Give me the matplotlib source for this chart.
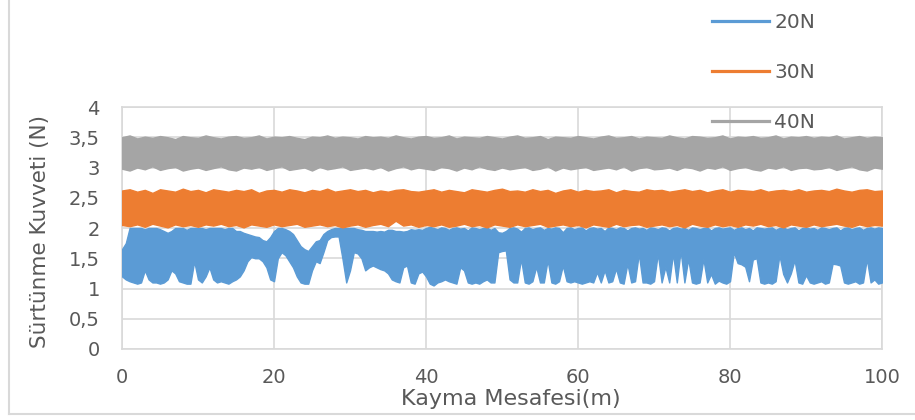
import numpy as np
import matplotlib
matplotlib.use("Agg")
import matplotlib.pyplot as plt
from matplotlib.lines import Line2D

# Friction force bands (upper / lower envelope of the recorded signal), in N
# 20N load, sampled every 0.5 m of sliding distance
lo_20n = [
    1.20, 1.15, 1.12, 1.10, 1.08, 1.10, 1.30, 1.15, 1.10, 1.10,
    1.08, 1.10, 1.15, 1.30, 1.25, 1.12, 1.10, 1.08, 1.08, 1.45,
    1.15, 1.10, 1.20, 1.35, 1.15, 1.10, 1.12, 1.10, 1.08, 1.12,
    1.15, 1.20, 1.30, 1.45, 1.52, 1.50, 1.50, 1.45, 1.35, 1.15,
    1.12, 1.50, 1.60, 1.55, 1.45, 1.35, 1.20, 1.10, 1.08, 1.08,
    1.30, 1.45, 1.42, 1.60, 1.80, 1.85, 1.86, 1.86, 1.50, 1.10,
    1.30, 1.60, 1.58, 1.50, 1.30, 1.35, 1.38, 1.35, 1.32, 1.30,
    1.25, 1.15, 1.12, 1.10, 1.35, 1.38, 1.10, 1.08, 1.25, 1.28,
    1.20, 1.08, 1.05, 1.10, 1.12, 1.15, 1.12, 1.10, 1.08, 1.35,
    1.30, 1.10, 1.08, 1.10, 1.08, 1.12, 1.15, 1.10, 1.10, 1.60,
    1.62, 1.63, 1.15, 1.10, 1.10, 1.49, 1.10, 1.08, 1.12, 1.36,
    1.10, 1.10, 1.47, 1.10, 1.08, 1.12, 1.38, 1.12, 1.10, 1.12,
    1.10, 1.08, 1.10, 1.12, 1.10, 1.27, 1.10, 1.30, 1.10, 1.12,
    1.33, 1.10, 1.08, 1.41, 1.10, 1.12, 1.58, 1.10, 1.10, 1.08,
    1.12, 1.58, 1.10, 1.36, 1.10, 1.58, 1.10, 1.63, 1.10, 1.49,
    1.10, 1.08, 1.10, 1.49, 1.10, 1.24, 1.08, 1.13, 1.10, 1.08,
    1.12, 1.60, 1.42, 1.40, 1.36, 1.12, 1.48, 1.50, 1.10, 1.08,
    1.10, 1.08, 1.12, 1.55, 1.24, 1.10, 1.25, 1.47, 1.10, 1.08,
    1.22, 1.10, 1.08, 1.10, 1.12, 1.08, 1.10, 1.41, 1.40, 1.38,
    1.10, 1.08, 1.10, 1.12, 1.08, 1.10, 1.49, 1.10, 1.15, 1.08,
    1.10,
]
hi_20n = [
    1.65, 1.75, 2.00, 2.00, 2.00, 2.00, 1.98, 2.00, 2.00, 2.00,
    1.98, 1.95, 1.92, 1.95, 2.00, 2.00, 2.00, 1.97, 2.00, 2.00,
    2.00, 2.00, 1.98, 2.00, 2.00, 2.00, 2.00, 1.98, 2.00, 2.00,
    1.95, 1.95, 1.92, 1.90, 1.88, 1.86, 1.85, 1.80, 1.78, 1.85,
    1.95, 2.00, 2.00, 1.98, 1.95, 1.90, 1.80, 1.70, 1.65, 1.62,
    1.70, 1.78, 1.80, 1.90, 1.95, 1.98, 2.00, 2.00, 2.00, 2.00,
    2.00, 2.00, 1.98, 1.97, 1.95, 1.95, 1.95, 1.94, 1.95, 1.94,
    1.97, 1.97, 1.95, 1.95, 1.94, 1.95, 1.98, 1.97, 1.98, 1.97,
    2.00, 2.02, 2.00, 1.98, 2.01, 2.00, 1.97, 2.00, 2.01, 1.99,
    2.00, 1.96, 2.01, 2.00, 1.98, 2.00, 2.01, 1.97, 2.00, 1.93,
    1.92, 1.95, 2.00, 2.01, 1.99, 1.94, 2.00, 2.01, 1.98, 2.00,
    2.01, 1.97, 2.00, 1.99, 2.01, 2.00, 1.93, 2.00, 2.01, 1.98,
    2.00, 2.01, 1.96, 2.00, 2.01, 1.99, 2.00, 1.95, 2.01, 2.00,
    1.98, 2.01, 2.00, 1.96, 2.00, 2.01, 1.99, 2.00, 1.97, 2.01,
    2.00, 1.98, 2.01, 2.00, 1.96, 2.00, 2.01, 1.99, 2.00, 1.97,
    2.01, 2.00, 1.98, 2.00, 2.01, 1.96, 2.00, 2.01, 1.99, 2.00,
    2.01, 1.97, 2.00, 2.01, 1.98, 2.00, 1.96, 2.01, 2.00, 1.99,
    2.00, 2.01, 1.97, 2.00, 2.01, 1.98, 2.00, 2.01, 1.96, 2.00,
    2.01, 1.99, 2.00, 1.97, 2.01, 2.00, 1.98, 2.00, 2.01, 1.96,
    2.00, 2.01, 1.98, 2.00, 2.01, 1.97, 2.00, 2.01, 1.99, 2.01,
    2.00,
]

# 30N and 40N loads, sampled every 1 m
lo_30n = [
    2.05, 2.03, 2.06, 2.02, 2.07, 2.04, 2.01, 2.06, 2.03, 2.05,
    2.02, 2.06, 2.04, 2.07, 2.03, 2.05, 2.01, 2.06, 2.04, 2.02,
    2.06, 2.03, 2.05, 2.07, 2.02, 2.04, 2.06, 2.03, 2.05, 2.01,
    2.04, 2.06, 2.02, 2.05, 2.07, 2.03, 2.12, 2.04, 2.06, 2.02,
    2.05, 2.03, 2.06, 2.02, 2.04, 2.07, 2.03, 2.05, 2.01, 2.06,
    2.04, 2.02, 2.06, 2.03, 2.05, 2.07, 2.02, 2.04, 2.06, 2.03,
    2.05, 2.01, 2.06, 2.04, 2.02, 2.07, 2.03, 2.05, 2.06, 2.02,
    2.04, 2.06, 2.03, 2.05, 2.01, 2.07, 2.04, 2.02, 2.06, 2.03,
    2.05, 2.02, 2.06, 2.04, 2.07, 2.03, 2.05, 2.01, 2.06, 2.04,
    2.02, 2.06, 2.03, 2.05, 2.07, 2.04, 2.02, 2.06, 2.03, 2.05,
    2.04,
]
hi_30n = [
    2.62, 2.64, 2.60, 2.63, 2.58, 2.64, 2.62, 2.60, 2.65, 2.61,
    2.63, 2.59, 2.64, 2.62, 2.60, 2.63, 2.61, 2.64, 2.58, 2.62,
    2.63, 2.60, 2.64, 2.62, 2.59, 2.63, 2.61, 2.65, 2.60, 2.62,
    2.64, 2.61, 2.63, 2.59, 2.62, 2.60, 2.63, 2.64, 2.61, 2.60,
    2.62, 2.64, 2.60, 2.63, 2.61, 2.59, 2.64, 2.62, 2.60, 2.63,
    2.65, 2.61, 2.62, 2.60, 2.64, 2.61, 2.63, 2.58, 2.62, 2.64,
    2.60, 2.63, 2.61, 2.62, 2.64, 2.59, 2.63, 2.61, 2.60, 2.64,
    2.62, 2.63, 2.60, 2.62, 2.64, 2.61, 2.63, 2.59, 2.62, 2.64,
    2.60, 2.63, 2.62, 2.61, 2.64, 2.60, 2.62, 2.63, 2.61, 2.64,
    2.60, 2.62, 2.63, 2.61, 2.65, 2.62, 2.60, 2.63, 2.64, 2.61,
    2.62,
]
lo_40n = [
    2.98, 2.95, 3.00, 2.97, 3.02, 2.96, 2.99, 3.01, 2.95, 2.98,
    3.00, 2.96, 2.99, 3.02, 2.97, 2.95, 3.00, 2.98, 3.01, 2.96,
    2.99, 3.02, 2.96, 2.98, 3.00, 2.95, 3.01, 2.97, 2.99, 3.02,
    2.96, 2.98, 3.00, 2.97, 3.01, 2.95, 2.99, 3.02, 2.97, 3.00,
    2.98, 2.96, 3.01, 2.99, 2.95, 3.00, 2.97, 3.02, 2.98, 2.96,
    3.00, 2.97, 2.99, 3.01, 2.96, 2.98, 3.02, 2.95, 3.00, 2.97,
    2.99, 3.01, 2.96, 2.98, 3.00, 2.97, 3.02, 2.95, 2.99, 3.01,
    2.97, 2.98, 3.00, 2.96, 3.01, 2.99, 2.95, 3.00, 2.98, 3.02,
    2.96, 2.99, 3.01, 2.97, 2.95, 3.00, 2.98, 3.02, 2.96, 2.99,
    3.00, 2.97, 2.98, 3.01, 2.96, 2.99, 3.02, 2.97, 2.95, 3.00,
    2.98,
]
hi_40n = [
    3.50, 3.53, 3.48, 3.51, 3.49, 3.52, 3.50, 3.47, 3.52, 3.50,
    3.49, 3.53, 3.50, 3.48, 3.51, 3.52, 3.49, 3.50, 3.53, 3.48,
    3.51, 3.50, 3.52, 3.49, 3.47, 3.51, 3.50, 3.53, 3.49, 3.51,
    3.50, 3.48, 3.52, 3.50, 3.51, 3.49, 3.53, 3.50, 3.48, 3.51,
    3.52, 3.49, 3.50, 3.53, 3.48, 3.51, 3.50, 3.49, 3.52, 3.50,
    3.48, 3.51, 3.53, 3.49, 3.50, 3.52, 3.47, 3.51, 3.50, 3.49,
    3.52, 3.50, 3.48, 3.51, 3.53, 3.49, 3.50, 3.52, 3.48, 3.51,
    3.50, 3.49, 3.53, 3.50, 3.48, 3.52, 3.51, 3.49, 3.50, 3.53,
    3.48, 3.51, 3.50, 3.52, 3.49, 3.50, 3.53, 3.48, 3.51, 3.50,
    3.52, 3.49, 3.51, 3.50, 3.53, 3.48, 3.50, 3.52, 3.49, 3.51,
    3.50,
]

series_labels = ["20N", "30N", "40N"]
series_colors = ["#5b9bd5", "#ed7d31", "#a5a5a5"]
x_ticks = [0, 20, 40, 60, 80, 100]
y_ticks = [0, 0.5, 1, 1.5, 2, 2.5, 3, 3.5, 4]
y_tick_labels = ["0", "0,5", "1", "1,5", "2", "2,5", "3", "3,5", "4"]

TEXT = "#595959"
GRID = "#d9d9d9"

plt.rcParams["font.family"] = ["DejaVu Sans"]

W, H = 915, 420
fig = plt.figure(figsize=(W / 100, H / 100), dpi=100)
ax = fig.add_axes([122 / W, 1 - 349 / H, 760 / W, 242 / H])

bands = [(lo_20n, hi_20n), (lo_30n, hi_30n), (lo_40n, hi_40n)]
for (lo, hi), color in zip(bands, series_colors):
    dist = np.linspace(0, 100, len(lo))
    ax.fill_between(dist, lo, hi, facecolor=color, edgecolor=color,
                    linewidth=1.0, zorder=3)

ax.set_xlim(0, 100)
ax.set_ylim(0, 4)
ax.set_xticks(x_ticks)
ax.set_xticklabels([str(t) for t in x_ticks])
ax.set_yticks(y_ticks)
ax.set_yticklabels(y_tick_labels)
ax.tick_params(length=0, labelsize=14, colors=TEXT)
ax.tick_params(axis="y", pad=16)
ax.tick_params(axis="x", pad=14)
ax.grid(True, color=GRID, linewidth=1.2, zorder=0)
ax.set_axisbelow(True)
for sp in ax.spines.values():
    sp.set_color(GRID)
    sp.set_linewidth(1.2)

ax.set_xlabel("Kayma Mesafesi(m)", fontsize=16, color=TEXT)
ax.xaxis.label.set_va("center")
ax.xaxis.set_label_coords(0.512, -0.205)
ax.set_ylabel("Sürtünme Kuvveti (N)", fontsize=15.5, color=TEXT)
ax.yaxis.label.set_va("center")
ax.yaxis.set_label_coords(-0.108, 0.486)

handles = [Line2D([], [], color=c, linewidth=2.3) for c in series_colors]
fig.legend(handles, series_labels, loc="upper left",
           bbox_to_anchor=(712 / W, 1 - 13 / H), frameon=False,
           fontsize=14.5, labelcolor=TEXT, handlelength=2.85,
           handletextpad=0.25, labelspacing=1.55, borderpad=0,
           borderaxespad=0)

# outer chart frame (left and bottom edges visible)
fig.add_artist(Line2D([9 / W, 9 / W], [1.0, 1 - 414 / H],
                      color=GRID, linewidth=1.5, transform=fig.transFigure))
fig.add_artist(Line2D([9 / W, 1.0], [1 - 414 / H, 1 - 414 / H],
                      color=GRID, linewidth=1.5, transform=fig.transFigure))

fig.savefig("out.png", dpi=100, facecolor="white")
